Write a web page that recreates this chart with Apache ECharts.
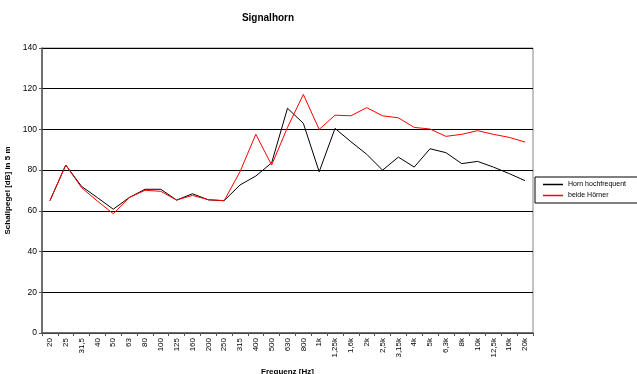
<!DOCTYPE html>
<html><head><meta charset="utf-8">
<script src="https://cdn.jsdelivr.net/npm/echarts@6/dist/echarts.min.js"></script>
<style>html,body{margin:0;padding:0;background:#fff}#c{width:637px;height:374px}</style>
</head><body><div id="c"></div>
<script>
var categories = ['20','25','31,5','40','50','63','80','100','125','160','200','250','315','400','500','630','800','1k','1,25k','1,6k','2k','2,5k','3,15k','4k','5k','6,3k','8k','10k','12,5k','16k','20k'];
var hornHoch = [65,82.5,72,66.5,60.8,66.5,70.6,70.6,65.3,68.4,65.4,65,72.7,77.1,83.6,110.4,103,79.2,100.5,94,87.8,80,86.4,81.5,90.5,88.6,83.2,84.3,81.5,78.3,74.8];
var beide = [65,82.5,71.4,64.8,58.6,66.5,70.1,69.6,65.3,67.6,65.5,65,79.2,97.6,82.5,101,117.2,100,107,106.7,110.7,106.7,105.7,101,100.2,96.6,97.6,99.4,97.6,96.1,93.8];
var yTicks = [0,20,40,60,80,100,120,140];

var chart = echarts.init(document.getElementById('c'));
var F = 'Liberation Sans, Arial, sans-serif';
chart.setOption({
  animation:false,
  backgroundColor:'#fff',
  title:{text:'Signalhorn', left:263, top:8, textAlign:'center', textStyle:{fontFamily:F,fontSize:10,fontWeight:'bold',color:'#000'}},
  legend:{orient:'vertical', left:535, top:177, icon:'rect', itemWidth:20, itemHeight:1.5, itemGap:4,
    padding:[4,16,4,8], borderColor:'#000', borderWidth:1, borderRadius:0,
    textStyle:{fontFamily:F,fontSize:7,color:'#000'},
    data:['Horn hochfrequent','beide Hörner']},
  grid:{left:42, right:104, top:48, bottom:41, outerBoundsMode:'none', containLabel:false, show:true, borderColor:'#888', borderWidth:1, backgroundColor:'#fff'},
  xAxis:{type:'category', data:categories, boundaryGap:true,
    name:'Frequenz [Hz]', nameLocation:'middle', nameGap:35,
    nameTextStyle:{fontFamily:F,fontSize:8,fontWeight:'bold',color:'#000'},
    axisLine:{lineStyle:{color:'#555',width:1.5}},
    axisTick:{show:true, alignWithLabel:false, length:3, lineStyle:{color:'#555'}},
    axisLabel:{rotate:90, interval:0, fontFamily:F, fontSize:8, color:'#000', margin:5},
    splitLine:{show:false}},
  yAxis:{type:'value', min:yTicks[0], max:yTicks[yTicks.length-1], interval:20,
    name:'Schallpegel [dB] in 5 m', nameLocation:'middle', nameGap:28, nameRotate:90,
    nameTextStyle:{fontFamily:F,fontSize:8,fontWeight:'bold',color:'#000'},
    axisLine:{show:true, lineStyle:{color:'#555',width:1.5}},
    axisTick:{show:true, length:3, lineStyle:{color:'#555'}},
    axisLabel:{fontFamily:F, fontSize:8.5, color:'#000', margin:5},
    splitLine:{show:true, lineStyle:{color:'#000', width:1}}},
  series:[
    {name:'Horn hochfrequent', type:'line', data:hornHoch, showSymbol:false, symbol:'none', color:'#000', lineStyle:{color:'#000', width:1}},
    {name:'beide Hörner', type:'line', data:beide, showSymbol:false, symbol:'none', color:'#ff0000', lineStyle:{color:'#ff0000', width:1}}
  ]
});
</script></body></html>
